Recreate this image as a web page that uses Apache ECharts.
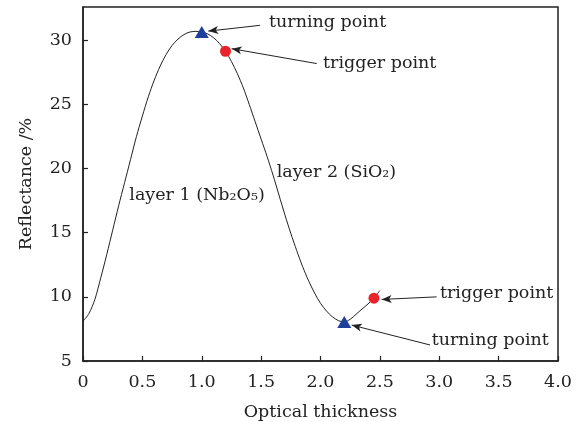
<!DOCTYPE html>
<html>
<head>
<meta charset="utf-8">
<script src="https://cdn.jsdelivr.net/npm/echarts@6/dist/echarts.min.js"></script>
<style>html,body{margin:0;padding:0;background:#fff}#c{width:579px;height:422px}</style>
</head>
<body>
<div id="c"></div>
<script>
// Reflectance curve (optical thickness vs reflectance %)
const thickness = [0,0.05,0.1,0.15,0.2,0.25,0.3,0.35,0.4,0.45,0.5,0.55,0.6,0.65,0.7,0.75,0.8,0.85,0.9,0.95,1.0,1.05,1.1,1.15,1.2,1.25,1.3,1.35,1.4,1.45,1.5,1.55,1.6,1.65,1.7,1.75,1.8,1.85,1.9,1.95,2.0,2.05,2.1,2.15,2.2,2.25,2.3,2.35,2.4,2.45,2.5];
const reflectance = [8.1,8.7,9.8,11.5,13.3,15.2,17.1,18.9,20.7,22.5,24.1,25.6,26.9,28.0,28.9,29.6,30.1,30.45,30.65,30.7,30.65,30.5,30.2,29.75,29.15,28.35,27.4,26.3,25.0,23.65,22.3,20.95,19.5,17.95,16.4,14.95,13.6,12.35,11.25,10.3,9.5,8.9,8.45,8.15,8.05,8.25,8.65,9.05,9.45,9.9,10.5];
const turningPoints = [[1.0,30.65],[2.2,8.05]];
const triggerPoints = [[1.2,29.15],[2.45,9.9]];
const xTicks = [0,0.5,1.0,1.5,2.0,2.5,3.0,3.5,4.0];
const yTicks = [5,10,15,20,25,30];
// annotations: [text, textX, textY, arrowStartX, arrowStartY, arrowEndX, arrowEndY]
const annotations = [
  ['turning point',1.566,31.4,1.49,31.17,1.055,30.72],
  ['trigger point',2.021,28.21,1.968,28.19,1.252,29.35],
  ['trigger point',3.006,10.27,2.978,10.0,2.515,9.8],
  ['turning point',2.936,6.58,2.922,6.25,2.263,7.8]
];
const layerLabels = [['layer 1 (Nb₂O₅)',0.39,17.93],['layer 2 (SiO₂)',1.631,19.72]];

const FONT = 'DejaVu Serif';
const FS = 17.5;
const TXT = '#222';
const curve = thickness.map((x,i)=>[x,reflectance[i]]);

const chart = echarts.init(document.getElementById('c'), null, {renderer:'canvas'});
chart.setOption({
  animation:false,
  backgroundColor:'#fff',
  grid:{left:83,right:21,top:7,bottom:61,containLabel:false,outerBoundsMode:'none',show:true,borderColor:'#222',borderWidth:1.5,backgroundColor:'transparent'},
  xAxis:{
    type:'value',min:0,max:4,interval:0.5,
    name:'Optical thickness',nameLocation:'middle',nameGap:42,
    nameTextStyle:{fontFamily:FONT,fontSize:FS,color:TXT},
    axisLine:{lineStyle:{color:'#222',width:1.5}},
    axisTick:{inside:true,length:5,lineStyle:{color:'#222',width:1.2}},
    axisLabel:{fontFamily:FONT,fontSize:FS,color:TXT,margin:12,
      formatter:v=>{const t=xTicks.find(k=>Math.abs(k-v)<1e-6);return t===undefined?'':(t===0?'0':t.toFixed(1));}},
    splitLine:{show:false}
  },
  yAxis:{
    type:'value',min:5,max:32.6,interval:5,
    name:'Reflectance /%',nameLocation:'middle',nameGap:48,
    nameTextStyle:{fontFamily:FONT,fontSize:FS,color:TXT},
    axisLine:{lineStyle:{color:'#222',width:1.5}},
    axisTick:{inside:true,length:5,lineStyle:{color:'#222',width:1.2}},
    axisLabel:{fontFamily:FONT,fontSize:FS,color:TXT,margin:11,showMaxLabel:false,
      formatter:v=>yTicks.some(k=>Math.abs(k-v)<1e-6)?String(v):''},
    splitLine:{show:false}
  },
  series:[
    {
      type:'line',data:curve,smooth:0.3,symbol:'none',
      lineStyle:{color:'#222',width:1},
      z:2,
      markLine:{
        silent:true,symbol:['none','arrow'],symbolSize:[6,10],
        lineStyle:{color:'#222',width:1,type:'solid'},
        label:{show:false},
        data:annotations.map(a=>[{coord:[a[3],a[4]]},{coord:[a[5],a[6]]}])
      },
      markPoint:{
        silent:true,symbol:'circle',symbolSize:0,
        label:{show:true,position:'right',distance:0,fontFamily:FONT,fontSize:FS,color:TXT,formatter:p=>p.name},
        data:annotations.map(a=>({name:a[0],coord:[a[1],a[2]]}))
          .concat(layerLabels.map(l=>({name:l[0],coord:[l[1],l[2]]})))
      }
    },
    {
      type:'scatter',data:turningPoints,symbol:'triangle',symbolSize:[14,12],
      itemStyle:{color:'#1f3f9c',opacity:1},z:5
    },
    {
      type:'scatter',data:triggerPoints,symbol:'circle',symbolSize:11,
      itemStyle:{color:'#e8232b',opacity:1},z:5
    }
  ]
});
</script>
</body>
</html>
